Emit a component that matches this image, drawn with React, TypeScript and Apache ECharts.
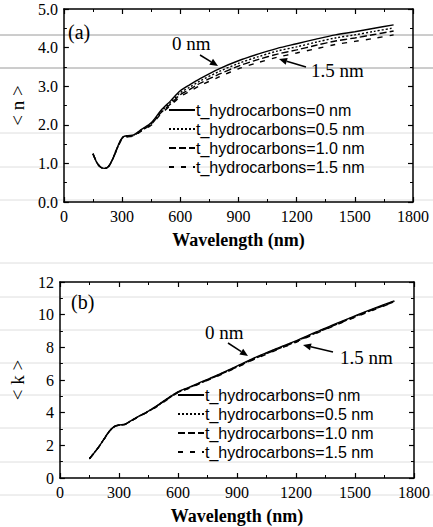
import React, { useEffect, useRef } from "react";
import * as echarts from "echarts";

// ---------- Data ----------
const seriesNames = [
  "t_hydrocarbons=0 nm",
  "t_hydrocarbons=0.5 nm",
  "t_hydrocarbons=1.0 nm",
  "t_hydrocarbons=1.5 nm",
];

// Panel (a): refractive index <n>
const wavelengthA = [150, 170, 190, 210, 230, 250, 270, 290, 305, 330, 360, 400, 450, 500, 550, 600, 650, 700, 800, 900, 1000, 1100, 1200, 1300, 1400, 1500, 1600, 1700];
const n0 = [1.25, 1.02, 0.9, 0.87, 0.92, 1.1, 1.35, 1.58, 1.69, 1.72, 1.74, 1.88, 2.05, 2.37, 2.62, 2.88, 3.04, 3.19, 3.45, 3.66, 3.83, 3.98, 4.1, 4.22, 4.33, 4.41, 4.5, 4.59];
const n05 = [1.25, 1.02, 0.9, 0.87, 0.92, 1.1, 1.34, 1.57, 1.68, 1.71, 1.73, 1.87, 2.03, 2.34, 2.58, 2.83, 2.98, 3.13, 3.38, 3.59, 3.76, 3.91, 4.02, 4.14, 4.25, 4.33, 4.42, 4.51];
const n10 = [1.25, 1.02, 0.9, 0.87, 0.92, 1.09, 1.33, 1.56, 1.67, 1.7, 1.72, 1.85, 2.01, 2.31, 2.54, 2.78, 2.92, 3.07, 3.31, 3.52, 3.69, 3.83, 3.94, 4.06, 4.17, 4.25, 4.34, 4.43];
const n15 = [1.25, 1.02, 0.9, 0.87, 0.92, 1.09, 1.32, 1.55, 1.66, 1.69, 1.71, 1.84, 1.99, 2.28, 2.5, 2.73, 2.87, 3.01, 3.24, 3.45, 3.61, 3.75, 3.86, 3.97, 4.08, 4.16, 4.24, 4.33];

// Panel (b): extinction coefficient <k>
const wavelengthB = [150, 175, 200, 225, 250, 275, 300, 330, 360, 400, 450, 500, 550, 600, 650, 700, 800, 900, 1000, 1100, 1200, 1300, 1400, 1500, 1600, 1700];
const k0 = [1.18, 1.55, 1.95, 2.4, 2.85, 3.15, 3.25, 3.3, 3.5, 3.78, 4.1, 4.48, 4.9, 5.28, 5.52, 5.78, 6.3, 6.85, 7.42, 7.92, 8.4, 8.93, 9.43, 9.93, 10.4, 10.85];
const k05 = [1.18, 1.55, 1.95, 2.4, 2.84, 3.14, 3.24, 3.29, 3.49, 3.77, 4.09, 4.47, 4.88, 5.26, 5.5, 5.76, 6.28, 6.83, 7.39, 7.89, 8.37, 8.9, 9.4, 9.9, 10.37, 10.82];
const k10 = [1.18, 1.54, 1.94, 2.39, 2.83, 3.13, 3.23, 3.28, 3.48, 3.76, 4.08, 4.45, 4.86, 5.24, 5.48, 5.74, 6.26, 6.8, 7.36, 7.86, 8.34, 8.87, 9.37, 9.87, 10.34, 10.8];
const k15 = [1.18, 1.54, 1.94, 2.38, 2.82, 3.12, 3.22, 3.27, 3.47, 3.75, 4.06, 4.43, 4.84, 5.22, 5.46, 5.72, 6.23, 6.77, 7.33, 7.83, 8.31, 8.84, 9.34, 9.84, 10.31, 10.78];

const nSeries = [n0, n05, n10, n15];
const kSeries = [k0, k05, k10, k15];

// ---------- Styles ----------
const serif = "'Liberation Serif', 'Times New Roman', serif";
const sans = "'Liberation Sans', Arial, Helvetica, sans-serif";
const lineTypes: any[] = ["solid", [2, 2], [7, 3], [5, 7]];

function xAxisPair(gridIndex: number) {
  const common = {
    type: "value",
    gridIndex,
    min: 0,
    max: 1800,
    interval: 300,
    splitLine: { show: false },
    axisLine: { show: true, onZero: false, lineStyle: { color: "#000", width: 1.5 } },
    axisTick: { show: true, inside: true, length: 5, lineStyle: { color: "#000", width: 1.2 } },
    minorTick: { show: true, splitNumber: 2, length: 3, lineStyle: { color: "#000", width: 1 } },
  };
  return [
    {
      ...common,
      position: "bottom",
      axisLabel: { color: "#000", fontFamily: serif, fontSize: 16, margin: 6, formatter: (v: number) => String(v) },
      name: "Wavelength (nm)",
      nameLocation: "middle",
      nameGap: 29,
      nameTextStyle: { fontFamily: serif, fontWeight: "bold", fontSize: 18, color: "#000" },
    },
    { ...common, position: "top", axisLabel: { show: false } },
  ];
}

function yAxisPair(gridIndex: number, max: number, interval: number, name: string, digits: number) {
  const common = {
    type: "value",
    gridIndex,
    min: 0,
    max,
    interval,
    splitLine: { show: false },
    axisLine: { show: true, onZero: false, lineStyle: { color: "#000", width: 1.5 } },
    axisTick: { show: true, inside: true, length: 5, lineStyle: { color: "#000", width: 1.2 } },
    minorTick: { show: true, splitNumber: 2, length: 3, lineStyle: { color: "#000", width: 1 } },
  };
  return [
    {
      ...common,
      position: "left",
      axisLabel: {
        color: "#000",
        fontFamily: serif,
        fontSize: 16,
        margin: 6,
        formatter: (v: number) => v.toFixed(digits),
      },
      name,
      nameLocation: "middle",
      nameRotate: 90,
      nameGap: 29,
      nameTextStyle: { fontFamily: serif, fontSize: 19, color: "#000" },
    },
    { ...common, position: "right", axisLabel: { show: false } },
  ];
}

function arrow(x1: number, y1: number, x2: number, y2: number) {
  const dx = x2 - x1;
  const dy = y2 - y1;
  const L = Math.hypot(dx, dy);
  const ux = dx / L;
  const uy = dy / L;
  const hl = 8;
  const hw = 3.5;
  const bx = x2 - ux * hl;
  const by = y2 - uy * hl;
  return [
    { type: "line", z: 10, shape: { x1, y1, x2: bx, y2: by }, style: { stroke: "#000", lineWidth: 1.5 } },
    {
      type: "polygon",
      z: 10,
      shape: { points: [[x2, y2], [bx - uy * hw, by + ux * hw], [bx + uy * hw, by - ux * hw]] },
      style: { fill: "#000" },
    },
  ];
}

function label(text: string, x: number, y: number, size: number) {
  return {
    type: "text",
    z: 10,
    x,
    y,
    style: { text, font: `${size}px ${serif}`, fill: "#000", verticalAlign: "middle", align: "left" },
  };
}

const pageLinesDark = [35, 68];
const pageLinesLight = [133, 167, 200, 263, 297, 330, 363, 395, 428, 462, 495];

export default function App() {
  const ref = useRef<HTMLDivElement>(null);

  useEffect(() => {
    if (!ref.current) return;
    const chart = echarts.init(ref.current, undefined, { renderer: "svg" });

    const series: any[] = [];
    seriesNames.forEach((name, i) => {
      series.push({
        type: "line",
        name,
        xAxisIndex: 0,
        yAxisIndex: 0,
        symbol: "none",
        smooth: 0.3,
        lineStyle: { color: "#000", width: 1.4, type: lineTypes[i] },
        itemStyle: { color: "#000" },
        data: wavelengthA.map((w, j) => [w, nSeries[i][j]]),
      });
    });
    seriesNames.forEach((name, i) => {
      series.push({
        type: "line",
        name,
        xAxisIndex: 2,
        yAxisIndex: 2,
        symbol: "none",
        smooth: 0.3,
        lineStyle: { color: "#000", width: 1.4, type: lineTypes[i] },
        itemStyle: { color: "#000" },
        data: wavelengthB.map((w, j) => [w, kSeries[i][j]]),
      });
    });

    const legendCommon = {
      orient: "vertical",
      padding: 0,
      itemWidth: 26,
      itemHeight: 12,
      itemGap: 3,
      itemStyle: { color: "rgba(0,0,0,0)", borderWidth: 0, opacity: 0 },
      textStyle: { fontFamily: sans, fontSize: 16, color: "#000", lineHeight: 16, padding: [0, 0, 0, -4] },
      data: seriesNames,
      selectedMode: false,
    };

    const graphics: any[] = [];
    pageLinesDark.forEach((y) =>
      graphics.push({ type: "line", z: 0, shape: { x1: 0, y1: y, x2: 433, y2: y }, style: { stroke: "#9a9a9a", lineWidth: 1 } })
    );
    pageLinesLight.forEach((y) =>
      graphics.push({ type: "line", z: 0, shape: { x1: 0, y1: y, x2: 433, y2: y }, style: { stroke: "#dedede", lineWidth: 1 } })
    );
    graphics.push(label("(a)", 68, 32, 20));
    graphics.push(label("0 nm", 172, 43, 19));
    graphics.push(label("1.5 nm", 311, 70, 19));
    graphics.push(...arrow(200, 55, 218, 66));
    graphics.push(...arrow(306, 67, 279, 59));
    graphics.push(label("(b)", 71, 302, 20));
    graphics.push(label("0 nm", 205, 332, 19));
    graphics.push(label("1.5 nm", 340, 357, 19));
    graphics.push(...arrow(228, 343, 248, 356));
    graphics.push(...arrow(333, 352, 303, 345));

    chart.setOption({
      animation: false,
      backgroundColor: "#fff",
      grid: [
        { left: 49, top: 9, width: 364, height: 193 },
        { left: 53, top: 282, width: 362, height: 196 },
      ],
      xAxis: [...xAxisPair(0), ...xAxisPair(1)],
      yAxis: [...yAxisPair(0, 5, 1, "< n >", 1), ...yAxisPair(1, 12, 2, "< k >", 0)],
      legend: [
        { ...legendCommon, left: 168, top: 102 },
        { ...legendCommon, left: 177, top: 387 },
      ],
      graphic: graphics,
      series,
    });

    return () => chart.dispose();
  }, []);

  return (
    <div
      ref={ref}
      style={{ position: "absolute", left: 0, top: 0, width: 433, height: 527, background: "#fff" }}
    />
  );
}
